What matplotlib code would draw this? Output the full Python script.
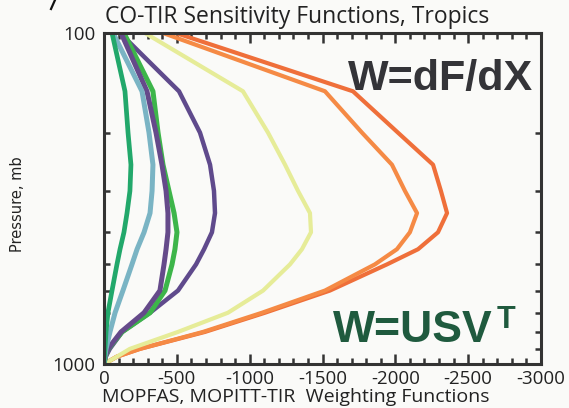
import matplotlib

matplotlib.use("Agg")

import matplotlib.pyplot as plt
from matplotlib.lines import Line2D
from matplotlib.ticker import FixedLocator, NullFormatter, FixedFormatter

plt.rcParams["axes.unicode_minus"] = False

# pressure levels (mb) shared by every weighting function
pressure = [100, 150, 200, 250, 300, 350, 400, 450, 500, 600, 700, 800, 900, 950, 1000]

# weighting functions
w_teal = [-55, -144, -165, -185, -178, -158, -137, -110, -89, -55, -27, -14, -7, -3, 0]
w_blue = [-62, -261, -309, -336, -330, -316, -275, -227, -192, -130, -76, -41, -14, -6, 0]
w_green = [-137, -336, -371, -405, -446, -481, -501, -487, -467, -419, -316, -124, -30, -10, 0]
w_purple_in = [-117, -295, -357, -398, -426, -439, -439, -426, -412, -384, -275, -117, -27, -8, 0]
w_purple_out = [-110, -515, -659, -728, -755, -762, -741, -687, -632, -508, -316, -125, -40, -12, 0]
w_yellow = [-281, -954, -1126, -1243, -1332, -1414, -1421, -1359, -1277, -1092, -851, -508, -178, -89, 0]
w_orange_in = [-405, -1517, -1771, -1977, -2066, -2149, -2100, -2011, -1860, -1517, -1085, -680, -247, -89, 0]
w_orange_out = [-494, -1709, -2018, -2259, -2313, -2355, -2293, -2156, -1943, -1551, -1105, -693, -247, -89, 0]

x_ticks = [0, -500, -1000, -1500, -2000, -2500, -3000]
y_major = [100, 1000]
y_minor = [200, 300, 400, 500, 600, 700, 800, 900]

BG = "#fafaf8"
INK = "#333333"

W, H = 569, 408
fig = plt.figure(figsize=(W / 100, H / 100), dpi=100, facecolor=BG)
ax = fig.add_axes([104 / W, 1 - 364 / H, (541 - 104) / W, (364 - 33) / H], facecolor=BG)

curves = [
    (w_orange_out, "#ef6f3a", 3.0),
    (w_orange_in, "#f58a45", 3.0),
    (w_yellow, "#e6ec98", 3.0),
    (w_purple_out, "#5f4a8c", 3.2),
    (w_green, "#3db54a", 3.6),
    (w_purple_in, "#654a8a", 3.6),
    (w_blue, "#7ab4c4", 3.6),
    (w_teal, "#22a86b", 3.4),
]
for vals, col, lw in curves:
    ax.plot(vals, pressure, color=col, lw=lw, solid_joinstyle="round",
            solid_capstyle="round", clip_on=True)

ax.set_yscale("log")
ax.set_ylim(1000, 100)
ax.set_xlim(0, -3000)

ax.yaxis.set_major_locator(FixedLocator(y_major))
ax.yaxis.set_major_formatter(FixedFormatter([str(v) for v in y_major]))
ax.yaxis.set_minor_locator(FixedLocator(y_minor))
ax.yaxis.set_minor_formatter(NullFormatter())
ax.set_xticks(x_ticks)
ax.set_xticklabels([str(v) for v in x_ticks])
ax.set_xticks(list(range(0, -3001, -100)), minor=True)

ax.tick_params(which="both", direction="in", top=True, right=True, color=INK,
               labelcolor="#222222", labelsize=13.5, pad=4)
ax.tick_params(axis="y", pad=6)
ax.tick_params(which="major", length=7, width=1.8)
ax.tick_params(which="minor", length=4, width=1.8)
for lab in ax.get_xticklabels() + ax.get_yticklabels():
    lab.set_fontfamily("Open Sans")
for sp in ax.spines.values():
    sp.set_color(INK)
    sp.set_linewidth(2.2)

fig.text(297 / W, 1 - 17 / H, "CO-TIR Sensitivity Functions, Tropics", ha="center",
         va="center", fontsize=16.5, family="Open Sans", color="#222222")
fig.text(296 / W, 1 - 397 / H, "MOPFAS, MOPITT-TIR  Weighting Functions", ha="center",
         va="center", fontsize=14, family="Open Sans", color="#222222")
fig.text(18 / W, 1 - 204 / H, "Pressure, mb", rotation=90, ha="center", va="center",
         fontsize=10.5, family=["Liberation Sans Narrow", "DejaVu Sans"], color="#222222")

fig.text(348 / W, 1 - 90 / H, "W=dF/dX", ha="left", va="baseline", fontsize=31,
         fontweight="bold", family="Liberation Sans", color="#343438")
fig.text(333 / W, 1 - 342 / H, "W=USV", ha="left", va="baseline", fontsize=32,
         fontweight="bold", family="Liberation Sans", color="#1f5a3e")
fig.text(497 / W, 1 - 328 / H, "T", ha="left", va="baseline", fontsize=22,
         fontweight="bold", family="Liberation Sans", color="#1f5a3e")

# cut-off panel mark at the top-left corner
fig.add_artist(Line2D([55 / W, 51 / W], [1.0, 1 - 9 / H], color="#111111", lw=1.6))

fig.savefig("out.png", dpi=100, facecolor=BG)
